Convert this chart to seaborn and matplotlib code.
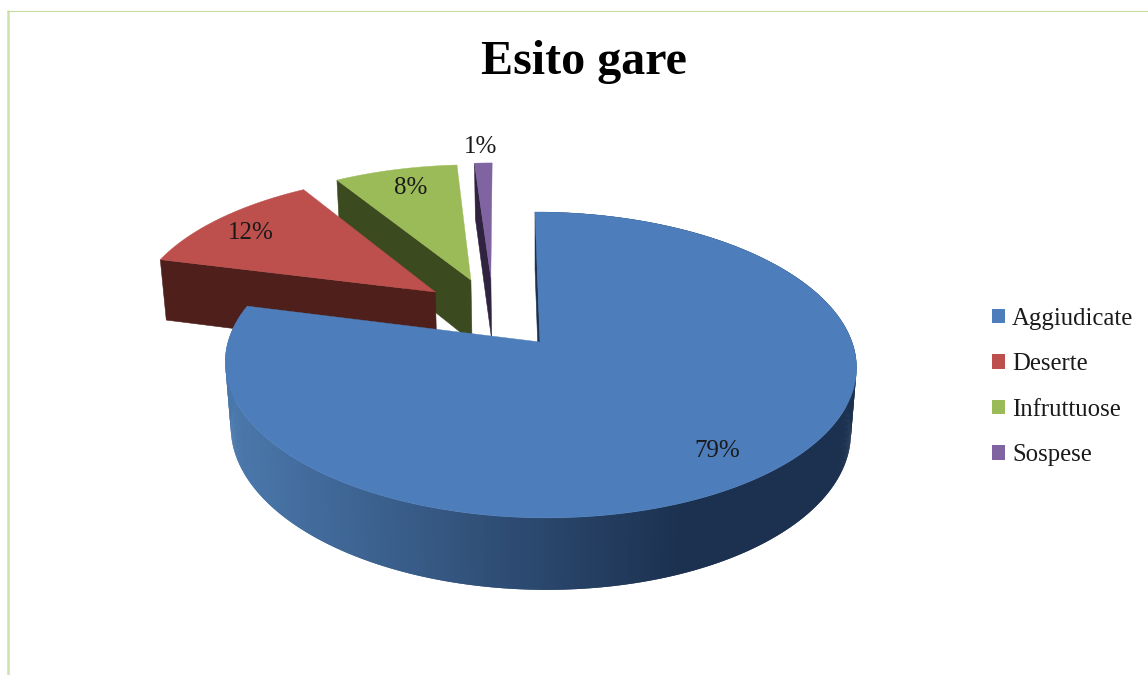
import numpy as np
import matplotlib
matplotlib.use("Agg")
import matplotlib.pyplot as plt
from matplotlib.patches import Patch
import seaborn as sns

# --- data ---
title = "Esito gare"
categories = ["Aggiudicate", "Deserte", "Infruttuose", "Sospese"]
values = [79.0, 12.2, 7.7, 1.1]

# --- style ---
top_colors = ["#4D7EBB", "#BD4F4C", "#9BBB59", "#8064A2"]
cut_colors = ["#1C3150", "#4F1F1B", "#3C4A20", "#2F2340"]
side_light, side_dark = "#4A77AB", "#1C3150"
explode = [(0.0, 0.0), (-0.347, 0.352), (-0.228, 0.442), (-0.160, 0.460)]
label_xy = [(717, 451), (251, 233), (411, 188), (481, 147)]
draw_order = [3, 2, 1, 0]
CX, CY, RX, RY, SHEAR, PERSP, DEPTH, DEPTH_PERSP = 540, 342, 312, 149.5, -5.75, 0.15, 65.5, 0.0175
BORDER = "#C3DB98"

sns.set_theme(style="white")
plt.rcParams["font.family"] = ["Liberation Serif", "DejaVu Serif"]
palette = sns.color_palette(top_colors)
cuts = sns.color_palette(cut_colors)


def project(U, V, Z=0.0):
    d = 1 + PERSP * V + DEPTH_PERSP * Z
    return CX + (RX * U + SHEAR * V) / d, CY - (RY * V - DEPTH * Z) / d


fig = plt.figure(figsize=(11.48, 6.75), dpi=100)
ax = fig.add_axes([0, 0, 1, 1])
ax.set_xlim(0, 1148)
ax.set_ylim(675, 0)
ax.axis("off")

ax.plot([8, 8], [10, 675], color=BORDER, lw=1.8, alpha=0.8, solid_capstyle="butt")
ax.plot([7, 1148], [10.5, 10.5], color=BORDER, lw=0.72, solid_capstyle="butt")

fractions = np.array(values) / np.sum(values)
ends = np.cumsum(fractions) * 2 * np.pi
starts = ends - fractions * 2 * np.pi

side_ramp = sns.blend_palette([side_light, side_dark], 256)

for i in draw_order:
    ox, oy = explode[i]
    z = draw_order.index(i) * 3
    th = np.linspace(starts[i], ends[i], max(int(np.degrees(ends[i] - starts[i]) * 2), 8))
    U, V = ox + np.sin(th), oy + np.cos(th)
    xt, yt = project(U, V)
    xa, ya = project(ox, oy)

    # shaded rim wall, only the large slice shows one
    if i == 0:
        xb, yb = project(U, V, 1.0)
        # each strip overlaps the next so no seams appear
        for k in range(len(th) - 1):
            n = min(k + 2, len(th) - 1)
            xm = (xt[k] + xt[k + 1]) / 2
            t = np.clip((xm - 235) / (680 - 235), 0, 1)
            ax.fill([xt[k], xt[n], xb[n], xb[k]], [yt[k], yt[n], yb[n], yb[k]],
                    color=side_ramp[int(t * 255)], lw=0, zorder=2 + z)

    # radial cut face at the start of each slice
    us, vs = ox + np.sin(starts[i]), oy + np.cos(starts[i])
    x2, y2 = project(us, vs)
    x3, y3 = project(us, vs, 1.0)
    x4, y4 = project(ox, oy, 1.0)
    ax.fill([xa, x2, x3, x4], [ya, y2, y3, y4], color=cuts[i], lw=0.4, zorder=3 + z)

    # top face
    ax.fill(np.r_[xa, xt], np.r_[ya, yt], color=palette[i], lw=0.3, zorder=4 + z)

for i, (x, y) in enumerate(label_xy):
    ax.text(x, y, f"{round(values[i])}%", ha="center", va="center",
            fontsize=18, color="#1a1a1a", zorder=30)

ax.text(584, 62, title, ha="center", va="center", fontsize=34.6, fontweight="bold",
        color="black", zorder=30)

handles = [Patch(facecolor=c, edgecolor="none", label=n) for c, n in zip(palette, categories)]
ax.legend(handles=handles, loc="center left", bbox_to_anchor=(992, 387), bbox_transform=ax.transData,
          frameon=False, fontsize=17.8, handlelength=0.53, handleheight=0.53,
          labelspacing=0.95, handletextpad=0.28, borderpad=0, borderaxespad=0,
          labelcolor="#1a1a1a")

fig.savefig("out.png", dpi=100)
